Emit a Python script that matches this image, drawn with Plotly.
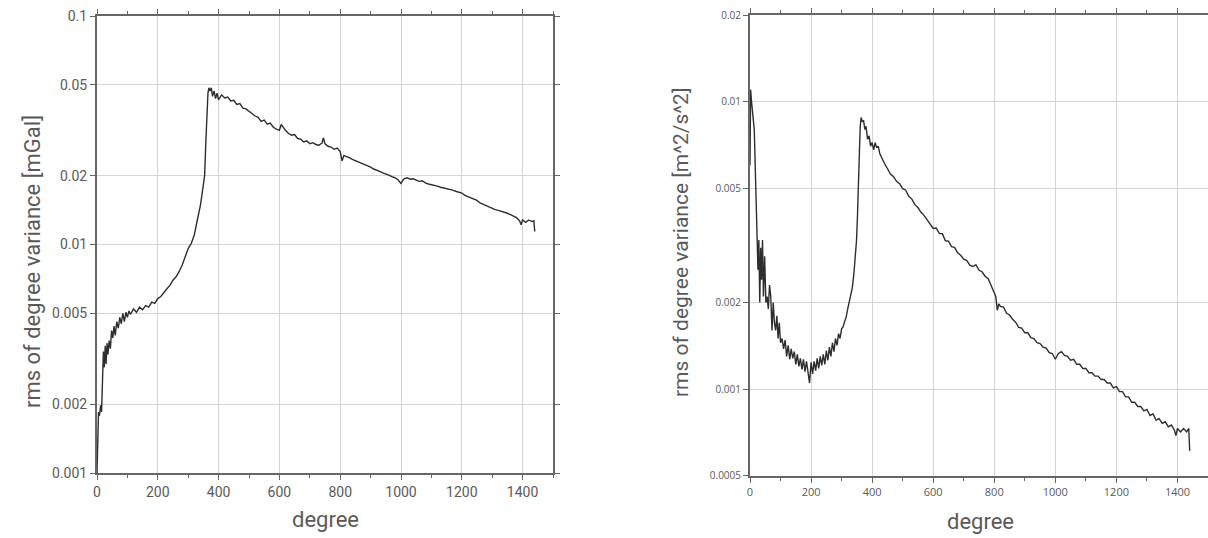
import plotly.graph_objects as go

# Gravity anomaly spectrum: rms of degree variance [mGal] per spherical-harmonic degree
grav_degree = [
    0, 2, 5, 8, 12, 15, 18, 21, 24, 27, 30, 33, 36, 40, 44, 48, 52, 56, 60, 65,
    70, 75, 80, 85, 90, 95, 100, 105, 110, 120, 130, 140, 150, 160, 170, 180, 190, 200, 210, 220,
    230, 240, 250, 260, 270, 280, 290, 300, 310, 320, 330, 340, 348, 354, 358, 362, 365, 368, 372, 376,
    380, 385, 390, 395, 400, 410, 420, 430, 440, 450, 460, 470, 480, 490, 500, 510, 520, 530, 540, 550,
    560, 570, 580, 590, 600, 606, 612, 620, 630, 640, 650, 660, 670, 680, 690, 700, 710, 720, 730, 740,
    745, 750, 760, 770, 780, 790, 800, 806, 812, 820, 830, 840, 850, 860, 870, 880, 890, 900, 910, 920,
    930, 940, 950, 960, 970, 980, 990, 1000, 1005, 1010, 1020, 1030, 1040, 1050, 1060, 1070, 1080, 1090, 1100, 1110,
    1120, 1130, 1140, 1150, 1160, 1170, 1180, 1190, 1200, 1210, 1220, 1230, 1240, 1250, 1260, 1270, 1280, 1290, 1300, 1310,
    1320, 1330, 1340, 1350, 1360, 1370, 1380, 1390, 1395, 1400, 1410, 1420, 1430, 1437, 1440,
]
grav_rms = [
    0.00100, 0.00145, 0.00185, 0.00178, 0.00198, 0.00185, 0.00260, 0.00340, 0.00290, 0.00360,
    0.00300, 0.00370, 0.00330, 0.00380, 0.00350, 0.00420, 0.00390, 0.00440, 0.00400, 0.00460,
    0.00430, 0.00480, 0.00450, 0.00500, 0.00460, 0.00505, 0.00480, 0.00512, 0.00495, 0.00522,
    0.00505, 0.00532, 0.00518, 0.00540, 0.00532, 0.00560, 0.00553, 0.00580, 0.00592, 0.00618,
    0.00640, 0.00662, 0.00698, 0.00722, 0.00760, 0.00812, 0.00880, 0.00960, 0.01010, 0.01100,
    0.01280, 0.01480, 0.01750, 0.02000, 0.02800, 0.03800, 0.04600, 0.04850, 0.04700, 0.04850,
    0.04450, 0.04700, 0.04350, 0.04600, 0.04300, 0.04520, 0.04380, 0.04420, 0.04250, 0.04280,
    0.04100, 0.04140, 0.03950, 0.03920, 0.03820, 0.03720, 0.03650, 0.03600, 0.03460, 0.03500,
    0.03360, 0.03400, 0.03260, 0.03200, 0.03160, 0.03350, 0.03250, 0.03160, 0.03060, 0.03010,
    0.03030, 0.02910, 0.02890, 0.02810, 0.02840, 0.02760, 0.02790, 0.02740, 0.02720, 0.02780,
    0.02930, 0.02760, 0.02690, 0.02670, 0.02610, 0.02640, 0.02550, 0.02320, 0.02450, 0.02430,
    0.02400, 0.02360, 0.02330, 0.02290, 0.02270, 0.02230, 0.02210, 0.02180, 0.02140, 0.02120,
    0.02090, 0.02060, 0.02040, 0.02010, 0.01980, 0.01960, 0.01920, 0.01850, 0.01900, 0.01940,
    0.01960, 0.01930, 0.01940, 0.01910, 0.01890, 0.01900, 0.01860, 0.01840, 0.01830, 0.01810,
    0.01800, 0.01780, 0.01770, 0.01760, 0.01740, 0.01730, 0.01710, 0.01700, 0.01680, 0.01640,
    0.01620, 0.01600, 0.01570, 0.01560, 0.01520, 0.01500, 0.01480, 0.01450, 0.01440, 0.01420,
    0.01410, 0.01400, 0.01380, 0.01370, 0.01350, 0.01330, 0.01310, 0.01270, 0.01220, 0.01280,
    0.01250, 0.01280, 0.01260, 0.01270, 0.01140,
]

# Geoid/potential spectrum: rms of degree variance [m^2/s^2]
geoid_degree = [
    0, 2, 5, 8, 11, 14, 17, 20, 23, 26, 29, 32, 35, 38, 41, 44, 48, 52, 56, 60,
    64, 68, 72, 76, 80, 84, 88, 92, 96, 100, 105, 110, 115, 120, 125, 130, 135, 140, 145, 150,
    155, 160, 165, 170, 175, 180, 185, 190, 195, 200, 205, 210, 215, 220, 225, 230, 235, 240, 245, 250,
    255, 260, 265, 270, 275, 280, 285, 290, 295, 300, 305, 310, 315, 320, 325, 330, 335, 340, 345, 349,
    352, 355, 358, 361, 364, 368, 372, 376, 380, 385, 390, 395, 400, 405, 410, 415, 420, 425, 430, 440,
    450, 460, 470, 480, 490, 500, 510, 520, 530, 540, 550, 560, 570, 580, 590, 600, 610, 620, 630, 640,
    650, 660, 670, 680, 690, 700, 710, 720, 730, 740, 750, 760, 770, 780, 790, 800, 805, 810, 815, 820,
    830, 840, 850, 860, 870, 880, 890, 900, 910, 920, 930, 940, 950, 960, 970, 980, 990, 1000, 1010, 1020,
    1030, 1040, 1050, 1060, 1070, 1080, 1090, 1100, 1110, 1120, 1130, 1140, 1150, 1160, 1170, 1180, 1190, 1200, 1210, 1220,
    1230, 1240, 1250, 1260, 1270, 1280, 1290, 1300, 1310, 1320, 1330, 1340, 1350, 1360, 1370, 1380, 1390, 1395, 1400, 1410,
    1420, 1430, 1437, 1440,
]
geoid_rms = [
    0.00600, 0.01100, 0.01000, 0.00900, 0.00860, 0.00800, 0.00600, 0.00420, 0.00340, 0.00260,
    0.00330, 0.00200, 0.00310, 0.00240, 0.00330, 0.00210, 0.00290, 0.00200, 0.00210, 0.00190,
    0.00230, 0.00210, 0.00160, 0.00200, 0.00170, 0.00160, 0.00180, 0.00150, 0.00170, 0.00145,
    0.00150, 0.00138, 0.00148, 0.00130, 0.00142, 0.00127, 0.00138, 0.00128, 0.00135, 0.00122,
    0.00132, 0.00120, 0.00128, 0.00117, 0.00127, 0.00115, 0.00125, 0.00112, 0.00105, 0.00124,
    0.00113, 0.00125, 0.00116, 0.00128, 0.00118, 0.00130, 0.00121, 0.00132, 0.00122, 0.00136,
    0.00126, 0.00140, 0.00130, 0.00145, 0.00135, 0.00150, 0.00142, 0.00156, 0.00150, 0.00162,
    0.00165, 0.00172, 0.00178, 0.00190, 0.00200, 0.00210, 0.00225, 0.00250, 0.00285, 0.00330,
    0.00400, 0.00480, 0.00650, 0.00820, 0.00880, 0.00850, 0.00860, 0.00800, 0.00820, 0.00740,
    0.00760, 0.00700, 0.00720, 0.00680, 0.00720, 0.00690, 0.00700, 0.00660, 0.00640, 0.00610,
    0.00585, 0.00560, 0.00548, 0.00528, 0.00518, 0.00498, 0.00492, 0.00468, 0.00458, 0.00438,
    0.00428, 0.00412, 0.00402, 0.00388, 0.00378, 0.00362, 0.00363, 0.00348, 0.00347, 0.00328,
    0.00327, 0.00313, 0.00311, 0.00298, 0.00292, 0.00283, 0.00280, 0.00270, 0.00267, 0.00271,
    0.00259, 0.00256, 0.00247, 0.00242, 0.00229, 0.00216, 0.00210, 0.00188, 0.00198, 0.00194,
    0.00193, 0.00184, 0.00181, 0.00175, 0.00171, 0.00164, 0.00163, 0.00157, 0.00157, 0.00151,
    0.00150, 0.00145, 0.00144, 0.00140, 0.00139, 0.00134, 0.00133, 0.00127, 0.00133, 0.00135,
    0.00131, 0.00130, 0.00126, 0.00127, 0.00122, 0.00122, 0.00118, 0.00118, 0.00114, 0.00114,
    0.00111, 0.00111, 0.00108, 0.00108, 0.00105, 0.00105, 0.00101, 0.00102, 0.00098, 0.00098,
    0.00094, 0.00094, 0.00090, 0.00090, 0.00087, 0.00087, 0.00084, 0.00085, 0.00081, 0.00082,
    0.00078, 0.00079, 0.00076, 0.00077, 0.00074, 0.00075, 0.00072, 0.00069, 0.00073, 0.00071,
    0.00073, 0.00071, 0.00073, 0.00061,
]

x_ticks = [0, 200, 400, 600, 800, 1000, 1200, 1400]
grav_ticks = [0.001, 0.002, 0.005, 0.01, 0.02, 0.05, 0.1]
grav_tick_text = ["0.001", "0.002", "0.005", "0.01", "0.02", "0.05", "0.1"]
geoid_ticks = [0.0005, 0.001, 0.002, 0.005, 0.01, 0.02]
geoid_tick_text = ["0.0005", "0.001", "0.002", "0.005", "0.01", "0.02"]

W, H = 1208, 538
AXIS_COLOR = "#666666"
GRID_COLOR = "#d4d4d4"
TEXT_COLOR = "#5a5a5a"
LINE_COLOR = "#2e2e2e"


def px_x(p):
    return p / W


def px_y(p):
    return 1 - p / H


fig = go.Figure()
fig.add_trace(go.Scatter(x=grav_degree, y=grav_rms, mode="lines",
                         line=dict(color=LINE_COLOR, width=1.4),
                         xaxis="x", yaxis="y", showlegend=False))
fig.add_trace(go.Scatter(x=geoid_degree, y=geoid_rms, mode="lines",
                         line=dict(color=LINE_COLOR, width=1.4),
                         xaxis="x2", yaxis="y2", showlegend=False))

common = dict(showline=True, linecolor=AXIS_COLOR, linewidth=2, mirror="ticks",
              ticks="outside", ticklen=5, tickwidth=1, tickcolor=AXIS_COLOR,
              showgrid=True, gridcolor=GRID_COLOR, gridwidth=1, zeroline=False,
              automargin=False)

xaxis_common = dict(common, range=[0, 1500], tickmode="array", tickvals=x_ticks,
                    minor=dict(dtick=100, tick0=0, ticks="outside", ticklen=3,
                               tickcolor=AXIS_COLOR, showgrid=False))

fig.update_layout(
    width=W, height=H,
    margin=dict(l=0, r=0, t=0, b=0, autoexpand=False),
    paper_bgcolor="white", plot_bgcolor="white",
    xaxis=dict(xaxis_common, domain=[px_x(97), px_x(553)], anchor="y",
               tickfont=dict(family="Roboto", size=14, color=TEXT_COLOR)),
    yaxis=dict(common, type="log", range=[-3, -1], domain=[px_y(473), px_y(16)],
               anchor="x", tickmode="array", tickvals=grav_ticks, ticktext=grav_tick_text,
               tickfont=dict(family="Roboto", size=14, color=TEXT_COLOR)),
    xaxis2=dict(xaxis_common, domain=[px_x(750), 1.0], anchor="y2",
                tickfont=dict(family="Open Sans", size=11, color=TEXT_COLOR)),
    yaxis2=dict(common, type="log", range=[-3.30103, -1.69897], mirror=False,
                domain=[px_y(475.7), px_y(15)], anchor="x2",
                tickmode="array", tickvals=geoid_ticks, ticktext=geoid_tick_text,
                tickfont=dict(family="Open Sans", size=10, color=TEXT_COLOR)),
)

title_font = dict(family="Roboto", size=22, color=TEXT_COLOR)
label_pos = dict(xref="paper", yref="paper", xanchor="center", yanchor="middle",
                 showarrow=False)
fig.add_annotation(text="rms of degree variance [mGal]", textangle=-90,
                   x=px_x(32), y=px_y(262), font=title_font, **label_pos)
fig.add_annotation(text="degree", x=px_x(325), y=px_y(519), font=title_font, **label_pos)
fig.add_annotation(text="rms of degree variance [m^2/s^2]", textangle=-90,
                   x=px_x(681), y=px_y(243),
                   font=dict(family="Roboto", size=21, color=TEXT_COLOR), **label_pos)
fig.add_annotation(text="degree", x=px_x(980), y=px_y(521), font=title_font, **label_pos)

fig.write_html("out.html")
